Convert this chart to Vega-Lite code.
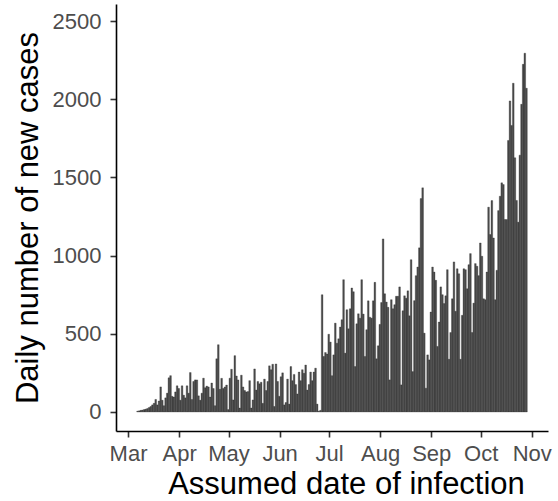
{
  "$schema": "https://vega.github.io/schema/vega-lite/v6.json",
  "autosize": "none",
  "width": 432,
  "height": 427,
  "padding": {"left": 116, "top": 4, "right": 10, "bottom": 70},
  "config": {
    "font": "Liberation Sans",
    "view": {"stroke": null},
    "axis": {
      "grid": false,
      "domainColor": "black",
      "domainWidth": 1.6,
      "tickColor": "#333333",
      "tickWidth": 1.6,
      "tickSize": 6,
      "labelColor": "#4d4d4d",
      "labelFontSize": 22,
      "labelOverlap": false,
      "titleColor": "black",
      "titleFontSize": 31,
      "titleFontWeight": "normal"
    }
  },
  "data": {
    "values": [
      {"d": "2020-03-06", "n": 5}, {"d": "2020-03-07", "n": 7}, {"d": "2020-03-08", "n": 10}, {"d": "2020-03-09", "n": 12},
      {"d": "2020-03-10", "n": 15}, {"d": "2020-03-11", "n": 18}, {"d": "2020-03-12", "n": 22}, {"d": "2020-03-13", "n": 28},
      {"d": "2020-03-14", "n": 35}, {"d": "2020-03-15", "n": 45}, {"d": "2020-03-16", "n": 55}, {"d": "2020-03-17", "n": 80},
      {"d": "2020-03-18", "n": 45}, {"d": "2020-03-19", "n": 70}, {"d": "2020-03-20", "n": 160}, {"d": "2020-03-21", "n": 75},
      {"d": "2020-03-22", "n": 40}, {"d": "2020-03-23", "n": 90}, {"d": "2020-03-24", "n": 120}, {"d": "2020-03-25", "n": 218},
      {"d": "2020-03-26", "n": 232}, {"d": "2020-03-27", "n": 100}, {"d": "2020-03-28", "n": 95}, {"d": "2020-03-29", "n": 128},
      {"d": "2020-03-30", "n": 167}, {"d": "2020-03-31", "n": 150},
      {"d": "2020-04-01", "n": 75}, {"d": "2020-04-02", "n": 167}, {"d": "2020-04-03", "n": 107}, {"d": "2020-04-04", "n": 90},
      {"d": "2020-04-05", "n": 167}, {"d": "2020-04-06", "n": 120}, {"d": "2020-04-07", "n": 252}, {"d": "2020-04-08", "n": 80},
      {"d": "2020-04-09", "n": 195}, {"d": "2020-04-10", "n": 205}, {"d": "2020-04-11", "n": 205}, {"d": "2020-04-12", "n": 103},
      {"d": "2020-04-13", "n": 75}, {"d": "2020-04-14", "n": 120}, {"d": "2020-04-15", "n": 216}, {"d": "2020-04-16", "n": 155},
      {"d": "2020-04-17", "n": 165}, {"d": "2020-04-18", "n": 160}, {"d": "2020-04-19", "n": 95}, {"d": "2020-04-20", "n": 185},
      {"d": "2020-04-21", "n": 150}, {"d": "2020-04-22", "n": 40}, {"d": "2020-04-23", "n": 340}, {"d": "2020-04-24", "n": 430},
      {"d": "2020-04-25", "n": 145}, {"d": "2020-04-26", "n": 215}, {"d": "2020-04-27", "n": 150}, {"d": "2020-04-28", "n": 160},
      {"d": "2020-04-29", "n": 172}, {"d": "2020-04-30", "n": 15},
      {"d": "2020-05-01", "n": 216}, {"d": "2020-05-02", "n": 273}, {"d": "2020-05-03", "n": 77}, {"d": "2020-05-04", "n": 360},
      {"d": "2020-05-05", "n": 230}, {"d": "2020-05-06", "n": 205}, {"d": "2020-05-07", "n": 25}, {"d": "2020-05-08", "n": 235},
      {"d": "2020-05-09", "n": 160}, {"d": "2020-05-10", "n": 137}, {"d": "2020-05-11", "n": 128}, {"d": "2020-05-12", "n": 130},
      {"d": "2020-05-13", "n": 200}, {"d": "2020-05-14", "n": 25}, {"d": "2020-05-15", "n": 77}, {"d": "2020-05-16", "n": 275},
      {"d": "2020-05-17", "n": 140}, {"d": "2020-05-18", "n": 195}, {"d": "2020-05-19", "n": 180}, {"d": "2020-05-20", "n": 190},
      {"d": "2020-05-21", "n": 55}, {"d": "2020-05-22", "n": 210}, {"d": "2020-05-23", "n": 137}, {"d": "2020-05-24", "n": 195},
      {"d": "2020-05-25", "n": 295}, {"d": "2020-05-26", "n": 270}, {"d": "2020-05-27", "n": 305}, {"d": "2020-05-28", "n": 35},
      {"d": "2020-05-29", "n": 307}, {"d": "2020-05-30", "n": 195}, {"d": "2020-05-31", "n": 100},
      {"d": "2020-06-01", "n": 225}, {"d": "2020-06-02", "n": 250}, {"d": "2020-06-03", "n": 45}, {"d": "2020-06-04", "n": 60},
      {"d": "2020-06-05", "n": 210}, {"d": "2020-06-06", "n": 50}, {"d": "2020-06-07", "n": 290}, {"d": "2020-06-08", "n": 200},
      {"d": "2020-06-09", "n": 240}, {"d": "2020-06-10", "n": 175}, {"d": "2020-06-11", "n": 115}, {"d": "2020-06-12", "n": 255},
      {"d": "2020-06-13", "n": 200}, {"d": "2020-06-14", "n": 270}, {"d": "2020-06-15", "n": 247}, {"d": "2020-06-16", "n": 300},
      {"d": "2020-06-17", "n": 140}, {"d": "2020-06-18", "n": 175}, {"d": "2020-06-19", "n": 255}, {"d": "2020-06-20", "n": 200},
      {"d": "2020-06-21", "n": 255}, {"d": "2020-06-22", "n": 280}, {"d": "2020-06-23", "n": 50}, {"d": "2020-06-24", "n": 5},
      {"d": "2020-06-25", "n": 10}, {"d": "2020-06-26", "n": 750}, {"d": "2020-06-27", "n": 355}, {"d": "2020-06-28", "n": 380},
      {"d": "2020-06-29", "n": 370}, {"d": "2020-06-30", "n": 497},
      {"d": "2020-07-01", "n": 447}, {"d": "2020-07-02", "n": 232}, {"d": "2020-07-03", "n": 365}, {"d": "2020-07-04", "n": 568},
      {"d": "2020-07-05", "n": 440}, {"d": "2020-07-06", "n": 468}, {"d": "2020-07-07", "n": 543}, {"d": "2020-07-08", "n": 590},
      {"d": "2020-07-09", "n": 846}, {"d": "2020-07-10", "n": 376}, {"d": "2020-07-11", "n": 654}, {"d": "2020-07-12", "n": 532},
      {"d": "2020-07-13", "n": 660}, {"d": "2020-07-14", "n": 793}, {"d": "2020-07-15", "n": 769}, {"d": "2020-07-16", "n": 290},
      {"d": "2020-07-17", "n": 564}, {"d": "2020-07-18", "n": 628}, {"d": "2020-07-19", "n": 600}, {"d": "2020-07-20", "n": 846},
      {"d": "2020-07-21", "n": 626}, {"d": "2020-07-22", "n": 355}, {"d": "2020-07-23", "n": 526}, {"d": "2020-07-24", "n": 711},
      {"d": "2020-07-25", "n": 606}, {"d": "2020-07-26", "n": 600}, {"d": "2020-07-27", "n": 711}, {"d": "2020-07-28", "n": 829},
      {"d": "2020-07-29", "n": 340}, {"d": "2020-07-30", "n": 423}, {"d": "2020-07-31", "n": 560},
      {"d": "2020-08-01", "n": 700}, {"d": "2020-08-02", "n": 1107}, {"d": "2020-08-03", "n": 756}, {"d": "2020-08-04", "n": 703},
      {"d": "2020-08-05", "n": 669}, {"d": "2020-08-06", "n": 205}, {"d": "2020-08-07", "n": 718}, {"d": "2020-08-08", "n": 660},
      {"d": "2020-08-09", "n": 686}, {"d": "2020-08-10", "n": 740}, {"d": "2020-08-11", "n": 740}, {"d": "2020-08-12", "n": 800},
      {"d": "2020-08-13", "n": 173}, {"d": "2020-08-14", "n": 647}, {"d": "2020-08-15", "n": 743}, {"d": "2020-08-16", "n": 728},
      {"d": "2020-08-17", "n": 775}, {"d": "2020-08-18", "n": 615}, {"d": "2020-08-19", "n": 974}, {"d": "2020-08-20", "n": 258},
      {"d": "2020-08-21", "n": 712}, {"d": "2020-08-22", "n": 872}, {"d": "2020-08-23", "n": 927}, {"d": "2020-08-24", "n": 1050},
      {"d": "2020-08-25", "n": 1365}, {"d": "2020-08-26", "n": 1434}, {"d": "2020-08-27", "n": 504}, {"d": "2020-08-28", "n": 152},
      {"d": "2020-08-29", "n": 365}, {"d": "2020-08-30", "n": 333}, {"d": "2020-08-31", "n": 639},
      {"d": "2020-09-01", "n": 927}, {"d": "2020-09-02", "n": 895}, {"d": "2020-09-03", "n": 842}, {"d": "2020-09-04", "n": 419},
      {"d": "2020-09-05", "n": 575}, {"d": "2020-09-06", "n": 800}, {"d": "2020-09-07", "n": 750}, {"d": "2020-09-08", "n": 693},
      {"d": "2020-09-09", "n": 743}, {"d": "2020-09-10", "n": 910}, {"d": "2020-09-11", "n": 337}, {"d": "2020-09-12", "n": 508},
      {"d": "2020-09-13", "n": 724}, {"d": "2020-09-14", "n": 960}, {"d": "2020-09-15", "n": 644}, {"d": "2020-09-16", "n": 916},
      {"d": "2020-09-17", "n": 884}, {"d": "2020-09-18", "n": 337}, {"d": "2020-09-19", "n": 618}, {"d": "2020-09-20", "n": 916},
      {"d": "2020-09-21", "n": 910}, {"d": "2020-09-22", "n": 788}, {"d": "2020-09-23", "n": 942}, {"d": "2020-09-24", "n": 1013},
      {"d": "2020-09-25", "n": 508}, {"d": "2020-09-26", "n": 696}, {"d": "2020-09-27", "n": 949}, {"d": "2020-09-28", "n": 932},
      {"d": "2020-09-29", "n": 872}, {"d": "2020-09-30", "n": 1081},
      {"d": "2020-10-01", "n": 996}, {"d": "2020-10-02", "n": 724}, {"d": "2020-10-03", "n": 718}, {"d": "2020-10-04", "n": 895},
      {"d": "2020-10-05", "n": 1310}, {"d": "2020-10-06", "n": 1135}, {"d": "2020-10-07", "n": 1352}, {"d": "2020-10-08", "n": 1113},
      {"d": "2020-10-09", "n": 718}, {"d": "2020-10-10", "n": 906}, {"d": "2020-10-11", "n": 1288}, {"d": "2020-10-12", "n": 1380},
      {"d": "2020-10-13", "n": 1466}, {"d": "2020-10-14", "n": 1455}, {"d": "2020-10-15", "n": 1231}, {"d": "2020-10-16", "n": 1231},
      {"d": "2020-10-17", "n": 1737}, {"d": "2020-10-18", "n": 1990}, {"d": "2020-10-19", "n": 1833}, {"d": "2020-10-20", "n": 2103},
      {"d": "2020-10-21", "n": 1626}, {"d": "2020-10-22", "n": 1353}, {"d": "2020-10-23", "n": 1214}, {"d": "2020-10-24", "n": 1643},
      {"d": "2020-10-25", "n": 1968}, {"d": "2020-10-26", "n": 2224}, {"d": "2020-10-27", "n": 2295}, {"d": "2020-10-28", "n": 2071}
    ]
  },
  "mark": {"type": "bar", "fill": "#4d4d4d", "stroke": "#1f1f1f", "strokeWidth": 0.3, "binSpacing": 0},
  "encoding": {
    "x": {
      "field": "d",
      "type": "temporal",
      "timeUnit": "utcyearmonthdate",
      "title": "Assumed date of infection",
      "scale": {
        "domain": [
          {"year": 2020, "month": 2, "date": 22, "hours": 17, "utc": true},
          {"year": 2020, "month": 11, "date": 10, "hours": 21, "utc": true}
        ]
      },
      "axis": {
        "values": [
          {"year": 2020, "month": 3, "date": 1, "utc": true},
          {"year": 2020, "month": 4, "date": 1, "utc": true},
          {"year": 2020, "month": 5, "date": 1, "utc": true},
          {"year": 2020, "month": 6, "date": 1, "utc": true},
          {"year": 2020, "month": 7, "date": 1, "utc": true},
          {"year": 2020, "month": 8, "date": 1, "utc": true},
          {"year": 2020, "month": 9, "date": 1, "utc": true},
          {"year": 2020, "month": 10, "date": 1, "utc": true},
          {"year": 2020, "month": 11, "date": 1, "utc": true}
        ],
        "format": "%b",
        "labelAngle": 0,
        "labelPadding": 6,
        "titlePadding": 5,
        "titleX": 230
      }
    },
    "y": {
      "field": "n",
      "type": "quantitative",
      "title": "Daily number of new cases",
      "scale": {"domain": [-122, 2610], "nice": false, "zero": false},
      "axis": {"values": [0, 500, 1000, 1500, 2000, 2500], "format": "d", "labelPadding": 9, "titlePadding": 8}
    }
  }
}
